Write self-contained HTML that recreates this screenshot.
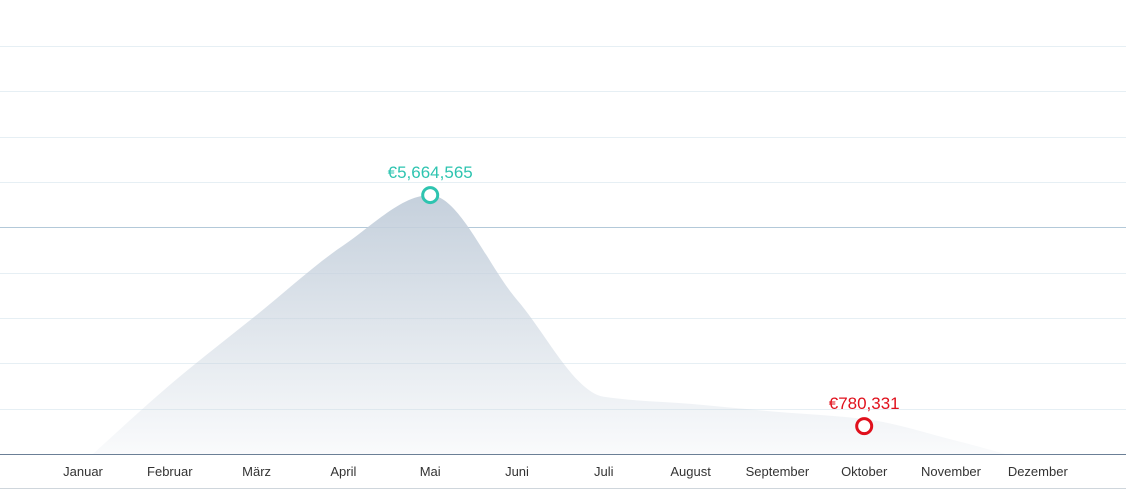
<!DOCTYPE html>
<html><head><meta charset="utf-8"><style>
body{margin:0;background:#fff;width:1126px;height:490px;overflow:hidden;font-family:"Liberation Sans",sans-serif}
</style></head><body>
<svg id="chart" width="1126" height="490" xmlns="http://www.w3.org/2000/svg">
<defs><linearGradient id="g" x1="0" y1="0" x2="0" y2="1">
<stop offset="0" stop-color="#c5d0dc"/><stop offset="1" stop-color="#c5d0dc" stop-opacity="0.06"/></linearGradient>
<clipPath id="clip"><rect x="0" y="0" width="1126" height="454"/></clipPath></defs>
</svg>
<script>
const months=["Januar","Februar","März","April","Mai","Juni","Juli","August","September","Oktober","November","Dezember"];
const values=[0,1650000,3130000,4600000,5664565,3450000,1400000,1250000,1080000,780331,500000,0];
const gridTicks=[1,2,3,4,5,6,7,8,9];
const peakIndex=4, lowIndex=9;
const svg=document.getElementById('chart');
const NS='http://www.w3.org/2000/svg';
const X=i=>83+i*86.8;
const Y=v=>463-v*47.3e-6;
const G=t=>454-t*45.35;
function el(t,a,p){const e=document.createElementNS(NS,t);for(const k in a)e.setAttribute(k,a[k]);(p||svg).appendChild(e);return e;}
gridTicks.forEach(t=>{const y=Math.round(G(t))+0.5;const l=el('line',{x1:0,x2:1126,y1:y,y2:y,stroke:t===5?'#b3c9d9':'#e6eff4','stroke-width':1});

});
// monotone cubic area
const pts=values.map((v,i)=>[X(i),Y(i===lowIndex?v+150000:v)]);
const n=pts.length,dx=86.8,sl=[],m=[];
for(let i=0;i<n-1;i++)sl.push((pts[i+1][1]-pts[i][1])/dx);
for(let i=0;i<n;i++){if(i===0)m.push(sl[0]);else if(i===n-1)m.push(sl[n-2]);else{const a=sl[i-1],b=sl[i];m.push(a*b<=0?0:2/(1/a+1/b));}}
let d=`M${pts[0][0]-25},463 L${pts[0][0]},${pts[0][1]}`;
for(let i=0;i<n-1;i++){const p1=pts[i],p2=pts[i+1];
d+=` C${p1[0]+dx/3},${p1[1]+m[i]*dx/3} ${p2[0]-dx/3},${p2[1]-m[i+1]*dx/3} ${p2[0]},${p2[1]}`;}
d+=` L${pts[n-1][0]},463 Z`;
const area=el('path',{d:d,fill:'url(#g)','clip-path':'url(#clip)'});


const ax=el('line',{x1:0,x2:1126,y1:454.5,y2:454.5,stroke:'#6b7f96','stroke-width':1});


const bl=el('line',{x1:0,x2:1126,y1:488.5,y2:488.5,stroke:'#cfd6dc','stroke-width':1});


months.forEach((m,i)=>{const t=el('text',{x:X(i),y:476,'text-anchor':'middle','font-size':13,fill:'#333'});t.textContent=m;

});
function marker(i,col,name){const c=el('circle',{cx:X(i),cy:Y(values[i]),r:7.5,fill:'#fff',stroke:col,'stroke-width':3});


const t=el('text',{x:X(i),y:Y(values[i])-17,'text-anchor':'middle','font-size':17,fill:col});
t.textContent='€'+values[i].toLocaleString('en-US');

}
marker(peakIndex,'#2ec4b0','peak');
marker(lowIndex,'#e0101c','low');
</script>
</body></html>
